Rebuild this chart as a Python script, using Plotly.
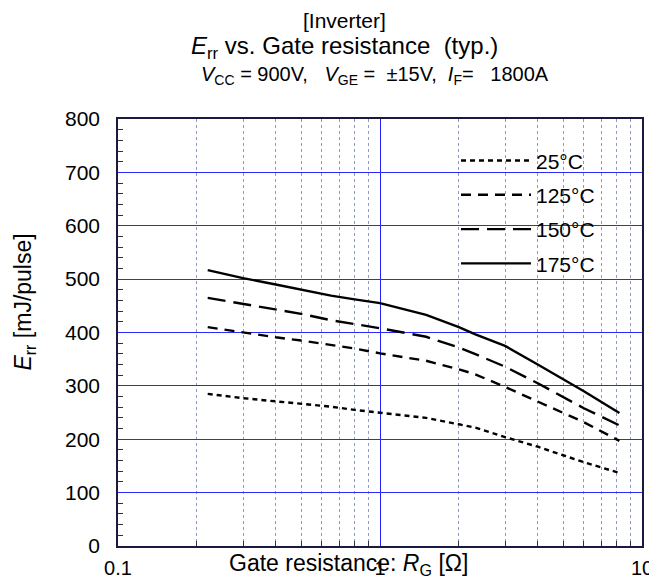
import plotly.graph_objects as go

rg = [0.22, 0.3, 0.4, 0.5, 0.65, 0.8, 1.0, 1.5, 2.0, 2.3, 3.0, 4.0, 5.0, 6.0, 8.2]
err_25 = [285, 277, 271, 267, 261, 255, 250, 240, 228, 222, 204, 186, 170, 157, 137]
err_125 = [410, 400, 391, 385, 377, 370, 361, 347, 331, 322, 298, 270, 249, 232, 197]
err_150 = [465, 454, 443, 435, 423, 416, 408, 392, 372, 360, 336, 305, 280, 258, 226]
err_175 = [517, 502, 490, 480, 469, 462, 455, 433, 410, 397, 375, 340, 312, 290, 249]
series_names = ["25°C", "125°C", "150°C", "175°C"]
series_vals = [err_25, err_125, err_150, err_175]
dashes = ["5px,4px", "10px,7px", "18px,8px", "solid"]
x_ticks = [0.1, 1, 10]
x_tick_text = ["0.1", "1", "10"]
x_minor = [0.2, 0.3, 0.4, 0.5, 0.6, 0.7, 0.8, 0.9, 2, 3, 4, 5, 6, 7, 8, 9]

FONT = "Liberation Sans, Arial, sans-serif"

fig = go.Figure()
for name, vals, d in zip(series_names, series_vals, dashes):
    fig.add_trace(go.Scatter(x=rg, y=vals, mode="lines", name=name,
                             legendgroup=name,
                             line=dict(color="black", width=2.4, dash=d)))

# page body has an 8px margin, so the figure is sized 8px smaller
fig.update_layout(
    width=649, height=572,
    margin=dict(l=110, r=15, t=111, b=34, autoexpand=False),
    plot_bgcolor="white", paper_bgcolor="white",
    font=dict(family=FONT, color="black", size=21),
    showlegend=True,
    legend=dict(x=0.645, y=0.95, xanchor="left", yanchor="top",
                bgcolor="rgba(0,0,0,0)", borderwidth=0, itemwidth=70,
                font=dict(size=21, family=FONT), tracegroupgap=4),
    xaxis=dict(type="log", range=[-1, 1], tickvals=x_ticks, ticktext=x_tick_text,
               showgrid=True, gridcolor="#2222ff", gridwidth=1, automargin=False,
               ticks="", showline=True, linecolor="#1a1a40", linewidth=1.5, mirror=True,
               tickfont=dict(size=20), ticklabelstandoff=3,
               minor=dict(tickvals=x_minor, ticks="inside", ticklen=5, tickcolor="#333",
                          showgrid=True, gridcolor="#8c9ac8", griddash="dot", gridwidth=1),
               zeroline=False),
    yaxis=dict(range=[0, 800], dtick=100, showgrid=True, gridcolor="#2a2aff", gridwidth=1,
               ticks="inside", ticklen=0, showline=True, linecolor="#1a1a40", linewidth=1.5,
               mirror=True, tickfont=dict(size=21), ticklabelstandoff=12, automargin=False,
               minor=dict(dtick=20, ticks="inside", ticklen=5, tickcolor="#333", showgrid=False),
               zeroline=False),
)

# white legend box hiding grid lines behind it
fig.add_shape(type="rect", xref="paper", yref="paper", x0=0.59, x1=0.968, y0=0.626, y1=0.944,
              fillcolor="white", line=dict(width=0), layer="between")

fig.add_annotation(text="[Inverter]", xref="paper", yref="paper", x=0.433, y=1.0,
                   yanchor="middle", yshift=119 - 20, showarrow=False, font=dict(size=21))
fig.add_annotation(text="<i>E</i><sub>rr</sub> vs. Gate resistance  (typ.)", xref="paper", yref="paper",
                   x=0.433, y=1.0, yanchor="middle", yshift=119 - 47, showarrow=False, font=dict(size=24))
fig.add_annotation(text="<i>V</i><sub>CC</sub> = 900V,   <i>V</i><sub>GE</sub> =  ±15V,  <i>I</i><sub>F</sub>=   1800A",
                   xref="paper", yref="paper", x=0.49, y=1.0, yanchor="middle", yshift=119 - 75,
                   showarrow=False, font=dict(size=20))
fig.add_annotation(text="Gate resistance: <i>R</i><sub>G</sub> [Ω]", xref="paper", yref="paper",
                   x=0.44, y=0.0, yanchor="middle", yshift=-(564 - 546), showarrow=False,
                   font=dict(size=23))
fig.add_annotation(text="<i>E</i><sub>rr</sub> [mJ/pulse]", xref="paper", yref="paper",
                   x=0.0, y=0.57, xanchor="center", xshift=-(118 - 25), textangle=-90,
                   showarrow=False, font=dict(size=23))

fig.write_html("out.html")
